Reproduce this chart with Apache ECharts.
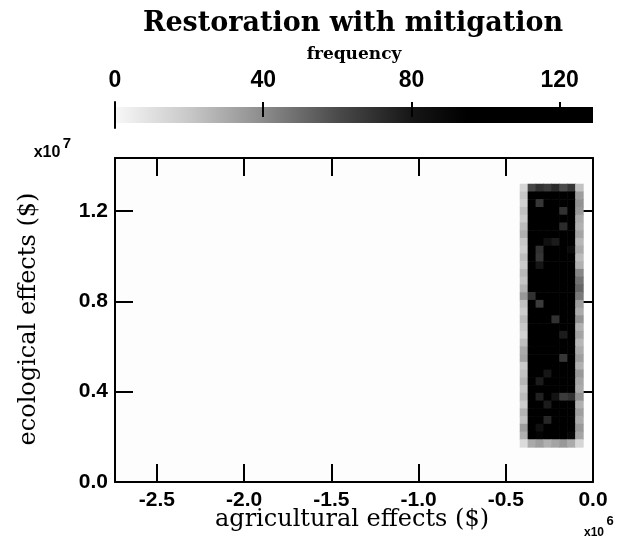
<!DOCTYPE html>
<html>
<head>
<meta charset="utf-8">
<script src="https://cdn.jsdelivr.net/npm/echarts@6/dist/echarts.min.js"></script>
<style>
  html, body { margin: 0; padding: 0; background: #ffffff; }
  #chart { width: 623px; height: 546px; }
</style>
</head>
<body>
<div id="chart"></div>
<script>
// ---- data ----
const titleText = 'Restoration with mitigation';
const xAxisName = 'agricultural effects ($)';
const yAxisName = 'ecological effects ($)';
const colorbarName = 'frequency';
const xTicks = [-2500000, -2000000, -1500000, -1000000, -500000, 0];
const yTicks = [0, 4000000, 8000000, 12000000];
const colorTicks = [0, 40, 80, 120];
const xRange = [-2740000, 0];
const yRange = [0, 14350000];
const colorRange = [0, 129];
// bin edges (x: left to right, y: top to bottom)
const xEdges = [-420000, -374600, -329200, -283800, -238400, -193000, -147600, -102200, -56800];
const yEdges = [13210000, 12867000, 12524000, 12181000, 11838000, 11495000, 11152000, 10809000,
  10466000, 10123000, 9780000, 9437000, 9094000, 8751000, 8408000, 8065000, 7722000, 7379000,
  7036000, 6693000, 6350000, 6007000, 5664000, 5321000, 4978000, 4635000, 4292000, 3949000,
  3606000, 3263000, 2920000, 2577000, 2234000, 1891000, 1548000];
// counts per cell, rows from top to bottom, columns from left to right
const cellCounts = [
  [14, 62, 70, 66, 72, 60, 68, 22],
  [20, 118, 112, 120, 106, 124, 115, 34],
  [16, 110, 68, 122, 117, 108, 120, 38],
  [22, 121, 114, 109, 119, 70, 112, 36],
  [18, 116, 123, 118, 111, 120, 117, 30],
  [24, 113, 119, 121, 115, 72, 124, 28],
  [28, 122, 110, 117, 120, 114, 108, 32],
  [20, 119, 116, 84, 78, 121, 117, 26],
  [17, 111, 70, 120, 113, 118, 88, 30],
  [23, 120, 68, 115, 122, 110, 119, 24],
  [19, 117, 80, 119, 116, 123, 114, 28],
  [25, 124, 113, 108, 121, 117, 112, 42],
  [21, 109, 121, 118, 114, 119, 120, 48],
  [27, 118, 115, 122, 110, 116, 106, 52],
  [36, 70, 112, 117, 121, 113, 119, 46],
  [22, 116, 66, 120, 115, 122, 113, 34],
  [18, 121, 118, 111, 119, 108, 117, 30],
  [24, 113, 120, 116, 70, 119, 121, 38],
  [20, 119, 114, 123, 117, 115, 110, 28],
  [16, 122, 117, 112, 118, 78, 119, 32],
  [23, 110, 121, 119, 113, 120, 116, 26],
  [30, 117, 112, 115, 121, 114, 122, 30],
  [32, 121, 119, 108, 116, 68, 113, 34],
  [19, 114, 116, 121, 119, 117, 110, 28],
  [22, 118, 110, 80, 115, 121, 118, 36],
  [26, 112, 78, 117, 122, 113, 115, 32],
  [20, 120, 118, 114, 109, 119, 121, 30],
  [24, 116, 76, 119, 82, 66, 70, 38],
  [18, 121, 114, 78, 118, 112, 116, 28],
  [27, 110, 120, 115, 121, 117, 106, 34],
  [22, 118, 112, 74, 113, 120, 119, 30],
  [34, 115, 84, 118, 116, 108, 117, 36],
  [28, 98, 92, 104, 95, 100, 90, 32],
  [12, 30, 34, 28, 32, 36, 30, 14]
];
// grey colour map: [count, grey level]
const grayStops = [[0, 248], [20, 200], [40, 140], [60, 75], [80, 22], [95, 0], [130, 0]];

// ---- helpers ----
function grayLevel(v) {
  for (let i = 1; i < grayStops.length; i++) {
    const a = grayStops[i - 1], b = grayStops[i];
    if (v <= b[0]) {
      const t = (v - a[0]) / (b[0] - a[0]);
      return Math.round(a[1] + t * (b[1] - a[1]));
    }
  }
  return grayStops[grayStops.length - 1][1];
}
function grayColor(v) {
  const g = Math.max(0, Math.min(255, grayLevel(v)));
  return 'rgb(' + g + ',' + g + ',' + g + ')';
}

const cells = [];
for (let r = 0; r < cellCounts.length; r++) {
  for (let c = 0; c < cellCounts[r].length; c++) {
    cells.push([xEdges[c], xEdges[c + 1], yEdges[r + 1], yEdges[r], cellCounts[r][c]]);
  }
}

const gradientStops = grayStops
  .filter(s => s[0] <= colorRange[1])
  .map(s => ({ offset: s[0] / colorRange[1], color: grayColor(s[0]) }));
gradientStops.push({ offset: 1, color: grayColor(colorRange[1]) });

const tickFont = { fontFamily: 'Liberation Sans', fontWeight: 'bold', fontSize: 21, color: '#000' };
const serif = 'DejaVu Serif';
const black2 = { color: '#000', width: 2 };

const chart = echarts.init(document.getElementById('chart'), null, { renderer: 'canvas' });
chart.setOption({
  backgroundColor: '#ffffff',
  animation: false,
  grid: [
    { left: 115, top: 158, width: 478, height: 324, show: true, backgroundColor: '#fdfdfd', borderWidth: 0 },
    { left: 115, top: 107, width: 478, height: 16, show: true, borderWidth: 0,
      backgroundColor: { type: 'linear', x: 0, y: 0, x2: 1, y2: 0, colorStops: gradientStops } },
    { left: 115, top: 102, width: 478, height: 26, show: false }
  ],
  xAxis: [
    { gridIndex: 0, type: 'value', min: xRange[0], max: xRange[1], position: 'bottom',
      axisLine: { show: true, onZero: false, lineStyle: black2 },
      axisTick: { show: true, inside: true, length: 18, customValues: xTicks, lineStyle: black2 },
      axisLabel: Object.assign({ show: true, margin: 8, customValues: xTicks,
        formatter: v => (v / 1e6).toFixed(1) }, tickFont),
      splitLine: { show: false } },
    { gridIndex: 0, type: 'value', min: xRange[0], max: xRange[1], position: 'top',
      axisLine: { show: true, onZero: false, lineStyle: black2 },
      axisTick: { show: true, inside: true, length: 18, customValues: xTicks, lineStyle: black2 },
      axisLabel: { show: false }, splitLine: { show: false } },
    { gridIndex: 1, type: 'value', min: colorRange[0], max: colorRange[1], position: 'top',
      axisLine: { show: false, onZero: false }, axisTick: { show: false }, axisLabel: { show: false },
      splitLine: { show: false } },
    { gridIndex: 2, type: 'value', min: colorRange[0], max: colorRange[1], position: 'top',
      axisLine: { show: false, onZero: false },
      axisTick: { show: true, inside: true, length: 15, customValues: colorTicks.slice(1), lineStyle: black2 },
      axisLabel: Object.assign({ show: true, margin: 10, customValues: colorTicks }, tickFont, { fontSize: 23 }),
      splitLine: { show: false } }
  ],
  yAxis: [
    { gridIndex: 0, type: 'value', min: yRange[0], max: yRange[1], position: 'left',
      axisLine: { show: true, onZero: false, lineStyle: black2 },
      axisTick: { show: true, inside: true, length: 18, customValues: yTicks, lineStyle: black2 },
      axisLabel: Object.assign({ show: true, margin: 7, customValues: yTicks,
        formatter: v => (v / 1e7).toFixed(1) }, tickFont),
      splitLine: { show: false } },
    { gridIndex: 0, type: 'value', min: yRange[0], max: yRange[1], position: 'right',
      axisLine: { show: true, onZero: false, lineStyle: black2 },
      axisTick: { show: true, inside: true, length: 18, customValues: yTicks, lineStyle: black2 },
      axisLabel: { show: false }, splitLine: { show: false } },
    { gridIndex: 1, type: 'value', min: 0, max: 1, position: 'left',
      axisLine: { show: false, onZero: false }, axisTick: { show: false }, axisLabel: { show: false }, splitLine: { show: false } },
    { gridIndex: 2, type: 'value', min: 0, max: 1, position: 'left',
      axisLine: { show: true, onZero: false, lineStyle: black2 },
      axisTick: { show: false }, axisLabel: { show: false }, splitLine: { show: false } }
  ],
  series: [{
    type: 'custom',
    xAxisIndex: 0, yAxisIndex: 0,
    encode: { x: [0, 1], y: [2, 3] },
    data: cells,
    renderItem: function (params, api) {
      const p0 = api.coord([api.value(0), api.value(3)]);
      const p1 = api.coord([api.value(1), api.value(2)]);
      return {
        type: 'rect',
        shape: { x: p0[0], y: p0[1], width: p1[0] - p0[0] + 0.6, height: p1[1] - p0[1] + 0.6 },
        style: { fill: grayColor(api.value(4)) }
      };
    }
  }],
  graphic: [
    { type: 'text', x: 353, y: 24, style: { text: titleText, font: 'bold 27px "' + serif + '"', fill: '#000', align: 'center', verticalAlign: 'middle' } },
    { type: 'text', x: 354, y: 55, style: { text: colorbarName, font: 'bold 17px "' + serif + '"', fill: '#000', align: 'center', verticalAlign: 'middle' } },
    { type: 'text', x: 352, y: 520, style: { text: xAxisName, font: '24px "' + serif + '"', fill: '#000', align: 'center', verticalAlign: 'middle' } },
    { type: 'text', x: 29, y: 319, rotation: Math.PI / 2, style: { text: yAxisName, font: '24px "' + serif + '"', fill: '#000', align: 'center', verticalAlign: 'middle' } },
    { type: 'text', x: 47, y: 153, style: { text: 'x10', font: 'bold 16px "Liberation Sans"', fill: '#000', align: 'center', verticalAlign: 'middle' } },
    { type: 'text', x: 67, y: 144, style: { text: '7', font: 'bold 15px "Liberation Sans"', fill: '#000', align: 'center', verticalAlign: 'middle' } },
    { type: 'text', x: 594, y: 533, style: { text: 'x10', font: 'bold 12px "Liberation Sans"', fill: '#000', align: 'center', verticalAlign: 'middle' } },
    { type: 'text', x: 610, y: 521, style: { text: '6', font: 'bold 13px "Liberation Sans"', fill: '#000', align: 'center', verticalAlign: 'middle' } }
  ]
});
</script>
</body>
</html>
